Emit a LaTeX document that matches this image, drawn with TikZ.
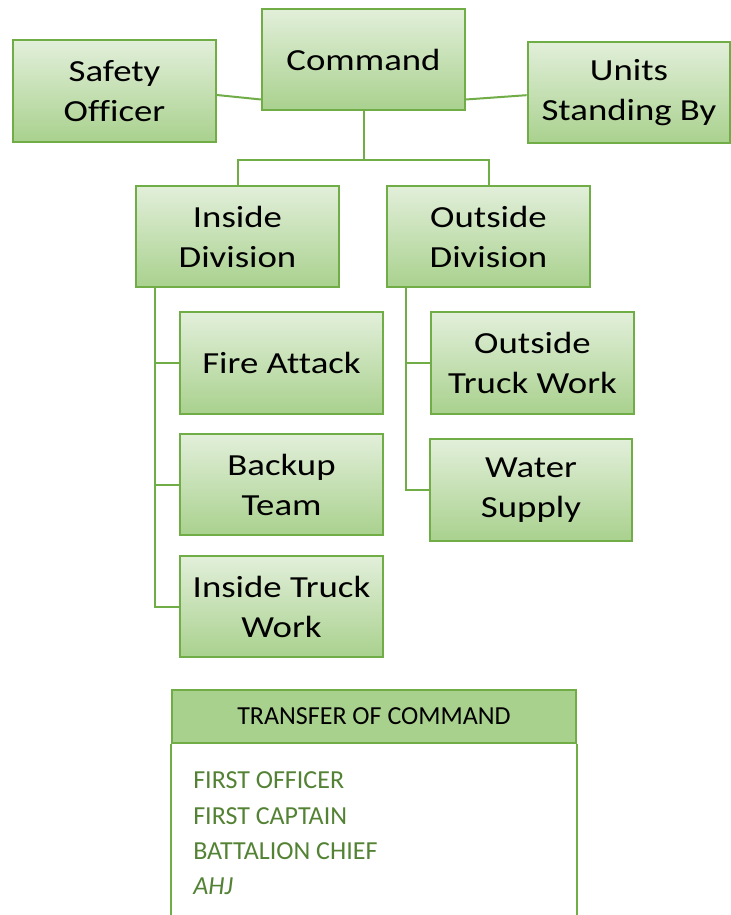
\documentclass[tikz,border=0pt]{standalone}
\usepackage{fontspec}
\setmainfont{Carlito}
\newfontfamily\boxfont[FakeStretch=1.2,Ligatures=NoCommon]{Carlito}
\usetikzlibrary{calc}
\definecolor{gborder}{HTML}{70AD47}
\definecolor{gtop}{HTML}{E2EFDA}
\definecolor{gbot}{HTML}{A9D18E}
\definecolor{gtext}{HTML}{548235}
\tikzset{
  orgbox/.style={draw=gborder, line width=1.5pt, top color=gtop, bottom color=gbot,
    minimum width=152pt, minimum height=76pt, inner sep=0pt, align=center,
    font=\boxfont\fontsize{23}{30}\selectfont},
  conn/.style={draw=gborder, line width=1.5pt},
  listtext/.style={anchor=west, inner sep=0pt, text=gtext, font=\fontsize{19.5}{24}\selectfont}
}
\begin{document}
\begin{tikzpicture}[x=0.75pt,y=-0.75pt]
\useasboundingbox (0,0) rectangle (731,915);
\clip (0,0) rectangle (731,915);
% boxes
\node[orgbox] (so) at (114.5,91) {Safety\\Officer};
\node[orgbox] (cmd) at (363.5,59.5) {Command};
\node[orgbox] (usb) at (629,92.5) {Units\\Standing By};
\node[orgbox] (ind) at (237.5,236.5) {Inside\\Division};
\node[orgbox] (outd) at (488.5,236.5) {Outside\\Division};
\node[orgbox] (fa) at (281.5,363) {Fire Attack};
\node[orgbox] (bt) at (281.5,484.5) {Backup\\Team};
\node[orgbox] (itw) at (281.5,606.5) {Inside Truck\\Work};
\node[orgbox] (otw) at (532.5,363) {Outside\\Truck Work};
\node[orgbox] (ws) at (531,490) {Water\\Supply};
% connectors
\draw[conn] ([yshift=-3pt]so.east) -- ([yshift=-30pt]cmd.west);
\draw[conn] ([yshift=-30pt]cmd.east) -- ([yshift=-2pt]usb.west);
\coordinate (jn) at (363.5,160);
\draw[conn] (cmd.south) -- (jn);
\draw[conn] (jn) -| (ind.north);
\draw[conn] (jn) -| (outd.north);
\coordinate (ia) at ([xshift=15pt]ind.south west);
\draw[conn] (ia) |- (fa.west);
\draw[conn] (ia) |- (bt.west);
\draw[conn] (ia) |- (itw.west);
\coordinate (oa) at ([xshift=15pt]outd.south west);
\draw[conn] (oa) |- (otw.west);
\draw[conn] (oa) |- (ws.west);
% transfer of command table
\node[draw=gborder, line width=1.5pt, fill=gbot, minimum width=303pt, minimum height=39.75pt,
  inner sep=0pt, font=\fontsize{19.5}{24}\selectfont] (hdr) at (374,716.5) {TRANSFER OF COMMAND};
\coordinate (bl) at (172,930);
\coordinate (br) at (576,930);
\draw[conn] (hdr.south west) -- (hdr.south west |- bl);
\draw[conn] (hdr.south east) -- (hdr.south east |- br);
\node[listtext] (l1) at (193,780) {FIRST OFFICER};
\node[listtext] (l2) at (193,816.5) {FIRST CAPTAIN};
\node[listtext] (l3) at (193,851.5) {BATTALION CHIEF};
\node[listtext] (l4) at (193,886.5) {\itshape AHJ};
\end{tikzpicture}
\end{document}
